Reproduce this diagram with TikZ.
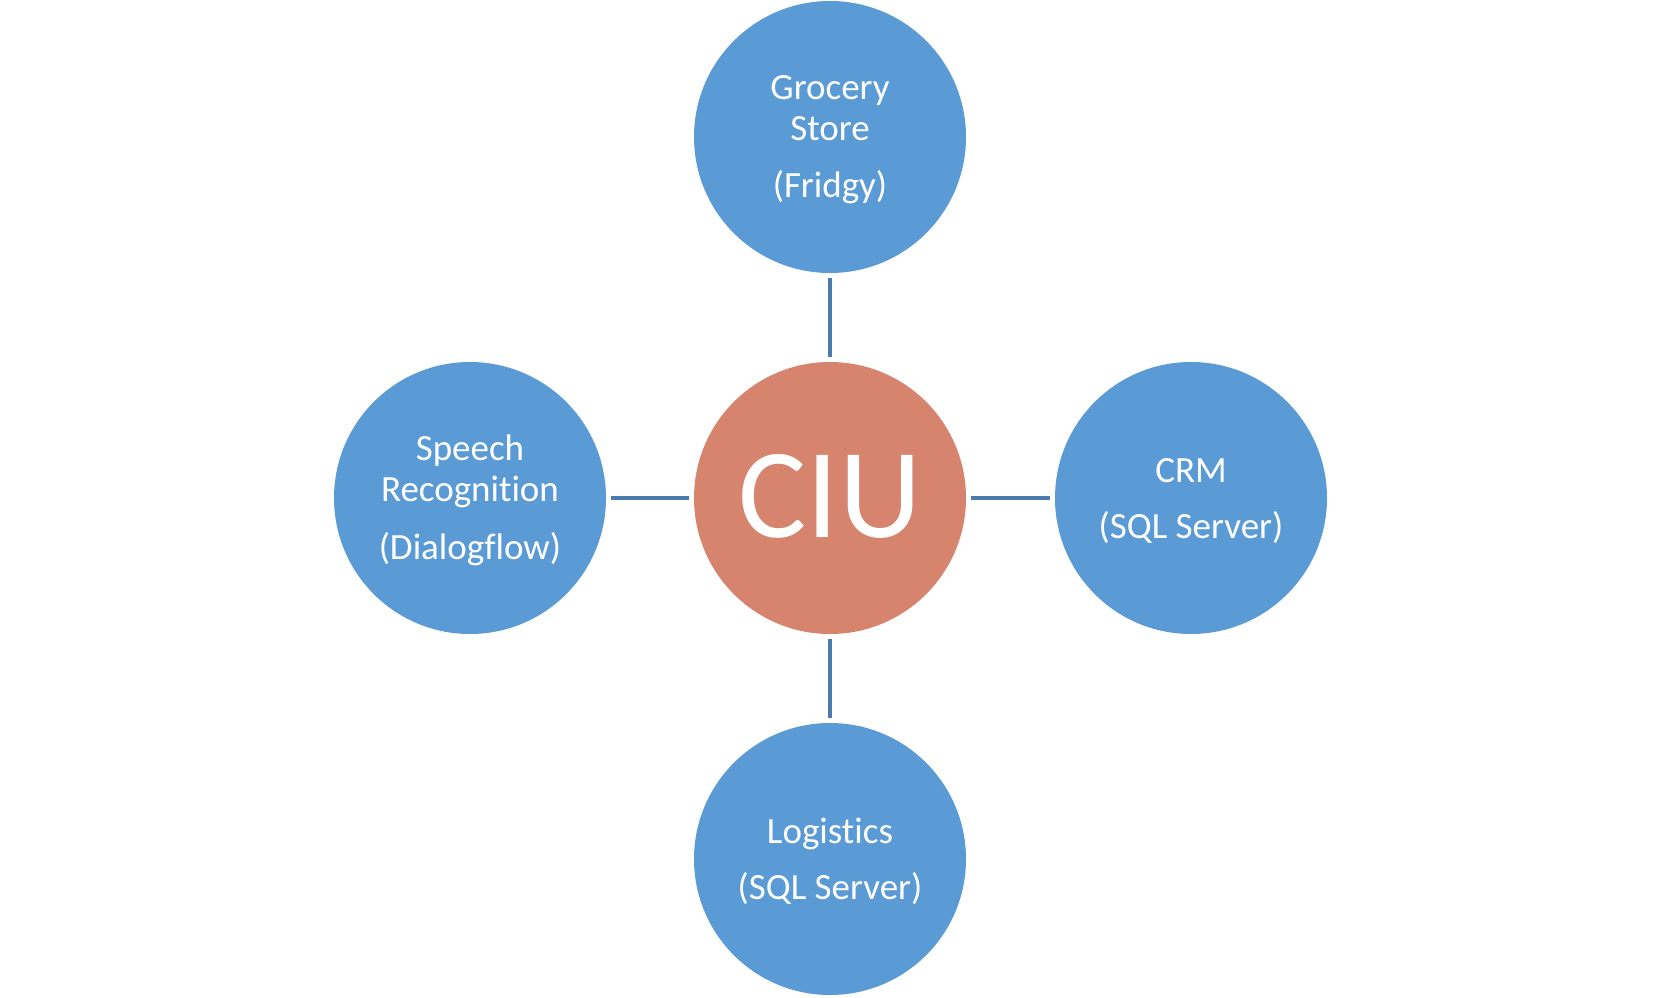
\documentclass[tikz,border=0pt]{standalone}
\usepackage{fontspec}
\setmainfont{Carlito}[Ligatures={NoCommon}]
\definecolor{spokeblue}{HTML}{5B9BD5}
\definecolor{hubred}{HTML}{D6846E}
\definecolor{linkblue}{HTML}{4A7CB0}
\newcommand{\lowstrut}{\rule{0pt}{30pt}}
\tikzset{
        hub/.style={circle, fill=hubred, text=white, inner sep=0pt, minimum size=272pt, font=\fontsize{128}{130}\selectfont},
        spoke/.style={circle, fill=spokeblue, text=white, inner sep=0pt, minimum size=272pt, align=center, font=\fontsize{37}{41}\selectfont},
        link/.style={draw=linkblue, line width=4pt, shorten >=5pt, shorten <=5pt}
          }
\begin{document}
\begin{tikzpicture}[x=1pt, y=-1pt]
        \useasboundingbox (0,0) rectangle (1675,998);
        \node[hub] (ciu) at (830,498) {\raisebox{5pt}{CIU}};
        \node[spoke] (grocery) at (830,137) {\lowstrut Grocery\\Store\\[16pt](Fridgy)};
        \node[spoke] (speech) at (470,498) {\lowstrut Speech\\Recognition\\[17pt](Dialogflow)};
        \node[spoke] (crm) at (1191,498) {\lowstrut CRM\\[15pt](SQL Server)};
        \node[spoke] (logistics) at (830,859) {\lowstrut Logistics\\[15pt](SQL Server)};
        \draw[link] (ciu) -- (grocery);
        \draw[link] (ciu) -- (speech);
        \draw[link] (ciu) -- (crm);
        \draw[link] (ciu) -- (logistics);
      \end{tikzpicture}
\end{document}
